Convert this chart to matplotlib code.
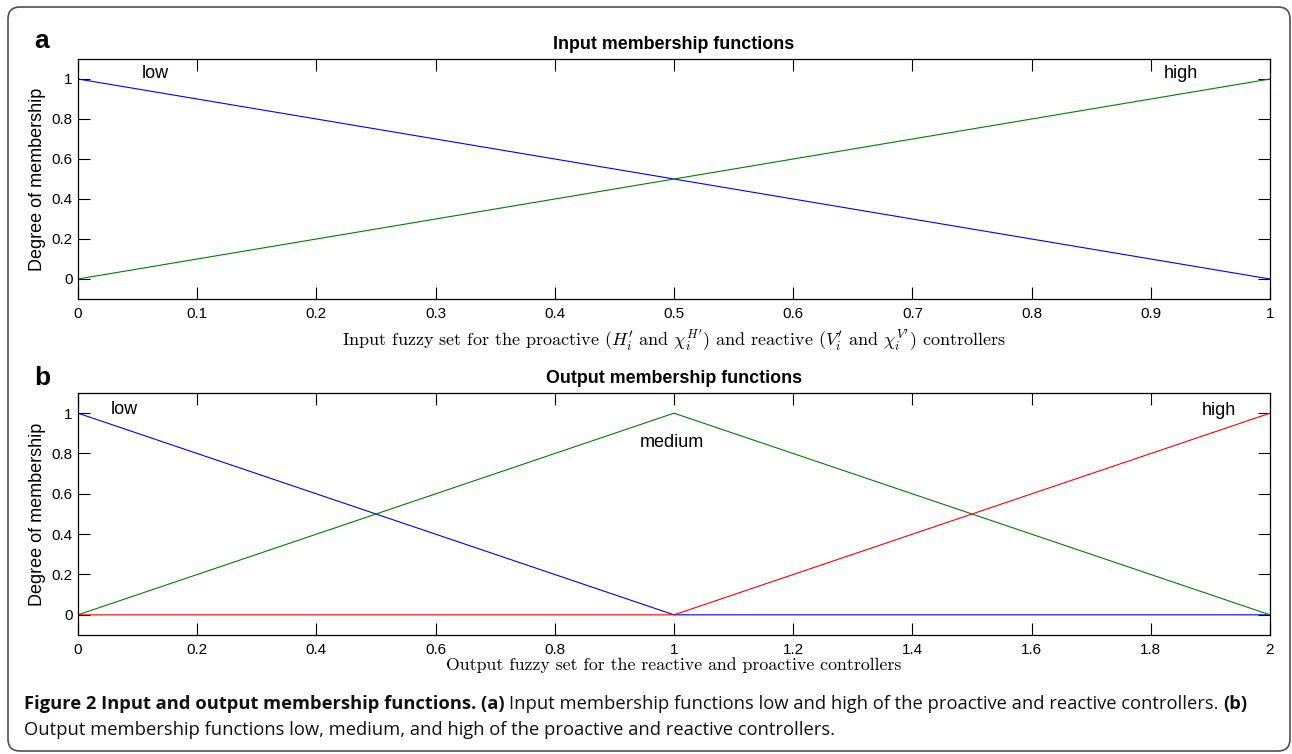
import matplotlib
matplotlib.use("Agg")
import matplotlib.pyplot as plt
from matplotlib.patches import FancyBboxPatch

# ---- data ----
x_in = [0, 1]
low_in = [1, 0]
high_in = [0, 1]

x_out = [0, 1, 2]
low_out = [1, 0, 0]
medium_out = [0, 1, 0]
high_out = [0, 0, 1]

xticks_a = [0, 0.1, 0.2, 0.3, 0.4, 0.5, 0.6, 0.7, 0.8, 0.9, 1]
xticklabels_a = ["0", "0.1", "0.2", "0.3", "0.4", "0.5", "0.6", "0.7", "0.8", "0.9", "1"]
xticks_b = [0, 0.2, 0.4, 0.6, 0.8, 1, 1.2, 1.4, 1.6, 1.8, 2]
xticklabels_b = ["0", "0.2", "0.4", "0.6", "0.8", "1", "1.2", "1.4", "1.6", "1.8", "2"]
yticks = [0, 0.2, 0.4, 0.6, 0.8, 1]
yticklabels = ["0", "0.2", "0.4", "0.6", "0.8", "1"]

plt.rcParams['mathtext.fontset'] = 'cm'
SANS = ['Liberation Sans', 'DejaVu Sans']
CAP = ['Open Sans', 'DejaVu Sans']

W, H = 1292, 754
fig = plt.figure(figsize=(W / 100, H / 100), dpi=100)
fig.patch.set_facecolor('white')


def px_axes(l, t, r, b):
    return fig.add_axes([l / W, 1 - b / H, (r - l) / W, (b - t) / H])


def style(ax, xticks, xlabels, xlim):
    ax.set_xlim(*xlim)
    ax.set_ylim(-0.1, 1.1)
    ax.set_xticks(xticks)
    ax.set_xticklabels(xlabels, family=SANS, fontsize=11)
    ax.set_yticks(yticks)
    ax.set_yticklabels(yticklabels, family=SANS, fontsize=11)
    ax.tick_params(direction='in', length=8.5, width=0.8, top=True, right=True,
                   pad=6, colors='black')
    ax.tick_params(axis='y', pad=4)
    for s in ax.spines.values():
        s.set_linewidth(0.9)
        s.set_color('black')


# ---- panel a ----
ax1 = px_axes(78, 59, 1270, 299)
ax1.plot(x_in, low_in, color='#0000ff', lw=0.8)
ax1.plot(x_in, high_in, color='#008000', lw=0.8)
style(ax1, xticks_a, xticklabels_a, (0, 1))
ax1.set_title('Input membership functions', family=SANS, fontsize=12.9,
              fontweight='bold', pad=7)
ax1.text(0.065, 1.03, 'low', family=SANS, fontsize=13, ha='center', va='center')
ax1.text(0.925, 1.03, 'high', family=SANS, fontsize=13, ha='center', va='center')
ax1.set_ylabel('Degree of membership', family=SANS, fontsize=13)
ax1.yaxis.set_label_coords(-(78 - 46) / 1192, 0.5)
ax1.set_xlabel(r"Input fuzzy set for the proactive ($H_i^{\prime}$ and $\chi_i^{H^{\prime}}$)"
               r" and reactive ($V_i^{\prime}$ and $\chi_i^{V^{\prime}}$) controllers",
               family='cmr10', fontsize=13)
ax1.xaxis.set_label_coords(0.5, -(327 - 299) / 240)

# ---- panel b ----
ax2 = px_axes(78, 393, 1270, 635)
ax2.plot(x_out, low_out, color='#0000ff', lw=0.8)
ax2.plot(x_out, medium_out, color='#008000', lw=0.8)
ax2.plot(x_out, high_out, color='#ff0000', lw=0.8)
style(ax2, xticks_b, xticklabels_b, (0, 2))
ax2.set_title('Output membership functions', family=SANS, fontsize=12.9,
              fontweight='bold', pad=7)
ax2.text(0.077, 1.02, 'low', family=SANS, fontsize=13, ha='center', va='center')
ax2.text(0.997, 0.855, 'medium', family=SANS, fontsize=13, ha='center', va='center')
ax2.text(1.915, 1.015, 'high', family=SANS, fontsize=13, ha='center', va='center')
ax2.set_ylabel('Degree of membership', family=SANS, fontsize=13)
ax2.yaxis.set_label_coords(-(78 - 46) / 1192, 0.5)
ax2.set_xlabel('Output fuzzy set for the reactive and proactive controllers',
               family='cmr10', fontsize=12.8)
ax2.xaxis.set_label_coords(0.5, -(657 - 635) / 242)

# ---- panel letters ----
fig.text(34 / W, 1 - 41 / H, 'a', family=SANS, fontsize=19, fontweight='bold',
         ha='left', va='center')
fig.text(34 / W, 1 - 378 / H, 'b', family=SANS, fontsize=19, fontweight='bold',
         ha='left', va='center')

# ---- caption ----
renderer = fig.canvas.get_renderer()


def runs(pieces, x0, ybase, size):
    x = x0
    for txt, bold in pieces:
        t = fig.text(x / W, 1 - ybase / H, txt, family=CAP, fontsize=size,
                     fontweight='bold' if bold else 'normal',
                     ha='left', va='baseline', color='#111111')
        bb = t.get_window_extent(renderer=renderer)
        x += bb.width


cap_size = 13.2
runs([("Figure 2 Input and output membership functions. (a) ", True),
      ("Input membership functions low and high of the proactive and reactive controllers. ", False),
      ("(b)", True)], 24, 709, cap_size)
runs([("Output membership functions low, medium, and high of the proactive and reactive controllers.", False)],
     24, 735, cap_size)

# ---- border ----
box = FancyBboxPatch((8 / 100, (H - 751) / 100), (1290 - 8) / 100, (751 - 7) / 100,
                     boxstyle="round,pad=0,rounding_size=0.12",
                     transform=fig.dpi_scale_trans, facecolor='none',
                     edgecolor='#505050', linewidth=1.2)
fig.add_artist(box)

fig.savefig('out.png', dpi=100)
